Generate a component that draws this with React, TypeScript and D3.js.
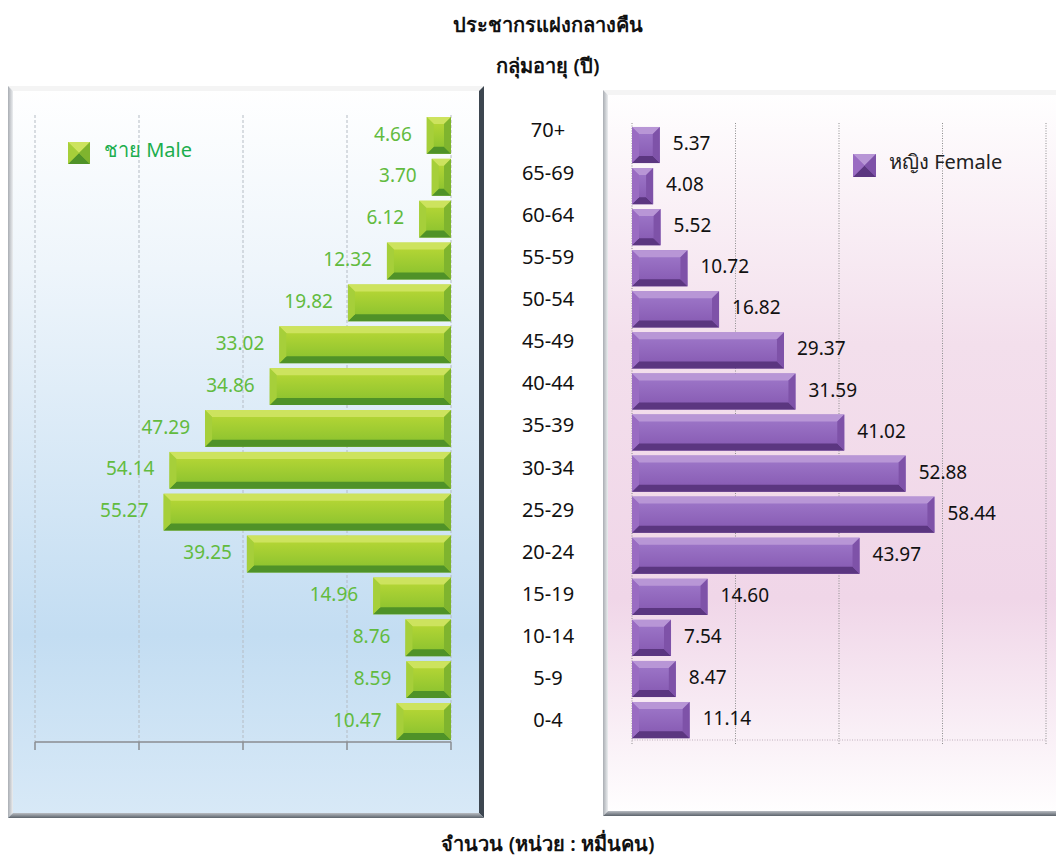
import * as d3 from 'd3';

const categories = ['70+', '65-69', '60-64', '55-59', '50-54', '45-49', '40-44', '35-39', '30-34', '25-29', '20-24', '15-19', '10-14', '5-9', '0-4'];
const maleValues = [4.66, 3.70, 6.12, 12.32, 19.82, 33.02, 34.86, 47.29, 54.14, 55.27, 39.25, 14.96, 8.76, 8.59, 10.47];
const femaleValues = [5.37, 4.08, 5.52, 10.72, 16.82, 29.37, 31.59, 41.02, 52.88, 58.44, 43.97, 14.60, 7.54, 8.47, 11.14];
const gridTicks = [0, 20, 40, 60, 80];

const W = 1056;
const H = 857;
const FONT = "Tahoma, 'Noto Sans', 'DejaVu Sans', sans-serif";

type Palette = { top: string; bottom: string; left: string; right: string; faceTop: string; faceBottom: string };

const green: Palette = { top: '#cde35e', bottom: '#4f9228', left: '#a6cf3a', right: '#7fb42e', faceTop: '#bcd936', faceBottom: '#86c02e' };
const purple: Palette = { top: '#b896d6', bottom: '#5b3680', left: '#9a6cc2', right: '#7e52a8', faceTop: '#a07acb', faceBottom: '#8457b0' };

function BevelRect({ x0, x1, y0, y1, p, gid, bevel = 7 }: { x0: number; x1: number; y0: number; y1: number; p: Palette; gid: string; bevel?: number }) {
    const w = x1 - x0;
    const h = y1 - y0;
    const b = Math.min(bevel, w / 2, h / 2);
    const pt = (a: [number, number][]) => a.map(d => d.join(',')).join(' ');
    return (
        <g>
            <rect x={x0} y={y0} width={w} height={h} fill={`url(#${gid})`} />
            <polygon points={pt([[x0, y0], [x1, y0], [x1 - b, y0 + b], [x0 + b, y0 + b]])} fill={p.top} />
            <polygon points={pt([[x0, y1], [x1, y1], [x1 - b, y1 - b], [x0 + b, y1 - b]])} fill={p.bottom} />
            <polygon points={pt([[x0, y0], [x0 + b, y0 + b], [x0 + b, y1 - b], [x0, y1]])} fill={p.left} />
            <polygon points={pt([[x1, y0], [x1 - b, y0 + b], [x1 - b, y1 - b], [x1, y1]])} fill={p.right} />
        </g>
    );
}

function Frame({ x, y, w, h, fillId, dark }: { x: number; y: number; w: number; h: number; fillId: string; dark: string }) {
    const b = 5;
    const x1 = x + w;
    const y1 = y + h;
    const pt = (a: [number, number][]) => a.map(d => d.join(',')).join(' ');
    return (
        <g>
            <rect x={x} y={y} width={w} height={h} fill={`url(#${fillId})`} />
            <polygon points={pt([[x, y], [x1, y], [x1 - b, y + b], [x + b, y + b]])} fill="#f4f4f4" />
            <polygon points={pt([[x, y], [x + b, y + b], [x + b, y1 - b], [x, y1]])} fill="url(#frameLeft)" />
            <polygon points={pt([[x1, y], [x1 - b, y + b], [x1 - b, y1 - b], [x1, y1]])} fill={dark} />
            <polygon points={pt([[x, y1], [x1, y1], [x1 - b, y1 - b], [x + b, y1 - b]])} fill="url(#frameBottom)" />
        </g>
    );
}

export default function App() {
    const maleX = d3.scaleLinear().domain([0, 80]).range([451, 35]);
    const femaleX = d3.scaleLinear().domain([0, 80]).range([632, 1046]);
    const maleY = d3.scaleBand<string>().domain(categories).range([114.5, 742.4]).paddingInner(0.12).paddingOuter(0.06);
    const femaleY = d3.scaleBand<string>().domain(categories).range([124.5, 740.6]).paddingInner(0.12).paddingOuter(0.06);
    const labelY = d3.scalePoint<string>().domain(categories).range([132, 722]);

    return (
        <svg width={W} height={H} style={{ display: 'block', position: 'absolute', left: 0, top: 0 }} fontFamily={FONT}>
            <defs>
                <linearGradient id="bgBlue" x1="0" y1="0" x2="0" y2="1">
                    <stop offset="0" stopColor="#ffffff" />
                    <stop offset="0.25" stopColor="#eef5fb" />
                    <stop offset="0.75" stopColor="#c3ddf2" />
                    <stop offset="1" stopColor="#d8e9f7" />
                </linearGradient>
                <linearGradient id="bgPink" x1="0" y1="0" x2="0" y2="1">
                    <stop offset="0" stopColor="#ffffff" />
                    <stop offset="0.35" stopColor="#f3dfec" />
                    <stop offset="0.7" stopColor="#f0d6e8" />
                    <stop offset="1" stopColor="#ffffff" />
                </linearGradient>
                <linearGradient id="frameLeft" x1="0" y1="0" x2="1" y2="0">
                    <stop offset="0" stopColor="#a9adb3" />
                    <stop offset="1" stopColor="#eceef0" />
                </linearGradient>
                <linearGradient id="frameBottom" x1="0" y1="0" x2="0" y2="1">
                    <stop offset="0" stopColor="#b8bcc2" />
                    <stop offset="1" stopColor="#5c636b" />
                </linearGradient>
                <linearGradient id="gFace" x1="0" y1="0" x2="0" y2="1">
                    <stop offset="0" stopColor={green.faceTop} />
                    <stop offset="1" stopColor={green.faceBottom} />
                </linearGradient>
                <linearGradient id="pFace" x1="0" y1="0" x2="0" y2="1">
                    <stop offset="0" stopColor={purple.faceTop} />
                    <stop offset="1" stopColor={purple.faceBottom} />
                </linearGradient>
            </defs>

            <text x={548} y={27} textAnchor="middle" dominantBaseline="middle" fontSize={20} fontWeight={600} fill="#111">ประชากรแฝงกลางคืน</text>
            <text x={548} y={68} textAnchor="middle" dominantBaseline="middle" fontSize={20} fontWeight={600} fill="#111">กลุ่มอายุ (ปี)</text>

            <Frame x={8} y={86} w={476} h={732} fillId="bgBlue" dark="#3d4650" />
            <Frame x={603} y={90} w={460} h={726} fillId="bgPink" dark="#d0b8c8" />

            {/* male grid + axis */}
            {gridTicks.map(t => (
                <line key={'mg' + t} x1={maleX(t)} x2={maleX(t)} y1={115} y2={742} stroke="#b5bcc4" strokeDasharray="3,2" />
            ))}
            <line x1={maleX(80)} x2={maleX(0)} y1={742} y2={742} stroke="#8a8d90" strokeWidth={1.5} />
            {gridTicks.map(t => (
                <line key={'mt' + t} x1={maleX(t)} x2={maleX(t)} y1={742} y2={750} stroke="#8a8d90" strokeWidth={1.5} />
            ))}

            {/* female grid */}
            {gridTicks.map(t => (
                <line key={'fg' + t} x1={femaleX(t)} x2={femaleX(t)} y1={123} y2={745} stroke="#8e8e8e" strokeDasharray="1,1.5" />
            ))}
            <line x1={femaleX(0)} x2={femaleX(80)} y1={740} y2={740} stroke="#c0b0bc" strokeDasharray="1,1.5" />

            {/* male bars */}
            {categories.map((c, i) => {
                const y0 = maleY(c) as number;
                const bw = maleY.bandwidth();
                return (
                    <g key={'m' + c}>
                        <BevelRect x0={maleX(maleValues[i])} x1={maleX(0)} y0={y0} y1={y0 + bw} p={green} gid="gFace" />
                        <text x={maleX(maleValues[i]) - 15} y={y0 + bw / 2} textAnchor="end" dominantBaseline="middle" fontSize={19} fill="#62bb3e">
                            {maleValues[i].toFixed(2)}
                        </text>
                    </g>
                );
            })}

            {/* female bars */}
            {categories.map((c, i) => {
                const y0 = femaleY(c) as number;
                const bw = femaleY.bandwidth();
                return (
                    <g key={'f' + c}>
                        <BevelRect x0={femaleX(0)} x1={femaleX(femaleValues[i])} y0={y0} y1={y0 + bw} p={purple} gid="pFace" />
                        <text x={femaleX(femaleValues[i]) + 13} y={y0 + bw / 2} dominantBaseline="middle" fontSize={19} fill="#111">
                            {femaleValues[i].toFixed(2)}
                        </text>
                    </g>
                );
            })}

            {/* category labels */}
            {categories.map(c => (
                <text key={'c' + c} x={548} y={labelY(c)} textAnchor="middle" dominantBaseline="middle" fontSize={20} fill="#111">{c}</text>
            ))}

            {/* legends */}
            <BevelRect x0={68} x1={90} y0={142} y1={164} p={green} gid="gFace" bevel={11} />
            <text x={104} y={152} dominantBaseline="middle" fontSize={20} fill="#1cae4e">ชาย Male</text>
            <BevelRect x0={853} x1={876} y0={154} y1={177} p={purple} gid="pFace" bevel={11.5} />
            <text x={889} y={164} dominantBaseline="middle" fontSize={20} fill="#222">หญิง Female</text>

            <text x={548} y={846} textAnchor="middle" dominantBaseline="middle" fontSize={20} fontWeight={600} fill="#111">จำนวน (หน่วย : หมื่นคน)</text>
        </svg>
    );
}
